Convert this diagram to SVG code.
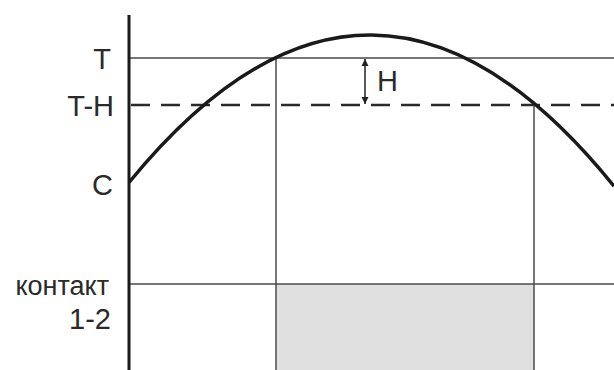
<svg xmlns="http://www.w3.org/2000/svg" width="614" height="370" viewBox="0 0 614 370">
  <defs>
    <marker id="ah" viewBox="0 0 10 10" refX="10" refY="5" markerWidth="7" markerHeight="8" orient="auto-start-reverse" markerUnits="userSpaceOnUse">
      <path d="M0,0 L10,5 L0,10 Z" fill="#222"/>
    </marker>
    <style>
      .lbl { font-family: "Liberation Sans", Arial, sans-serif; font-size: 29px; fill: #2a2a2a; text-anchor: end; }
      .thin { stroke: #4a4a4a; stroke-width: 1.5; fill: none; }
      .dash { stroke: #2a2a2a; stroke-width: 2.5; stroke-dasharray: 19 11; fill: none; }
    </style>
  </defs>
  <rect width="614" height="370" fill="#fff"/>
  <g id="contact-band">
    <rect x="276" y="284" width="258" height="86" fill="#e0e0e0"/>
  </g>
  <g id="grid">
    <line class="thin" x1="130" y1="58" x2="614" y2="58"/>
    <line class="dash" x1="131" y1="105" x2="614" y2="105"/>
    <line class="thin" x1="130" y1="284" x2="614" y2="284"/>
    <line class="thin" x1="276" y1="58" x2="276" y2="370"/>
    <line class="thin" x1="534" y1="105" x2="534" y2="370"/>
  </g>
  <g id="axis">
    <line x1="129" y1="15" x2="129" y2="370" stroke="#1a1a1a" stroke-width="3"/>
  </g>
  <g id="curve">
    <path d="M129,182.5 Q371.5,-114.3 614,186.2" fill="none" stroke="#1a1a1a" stroke-width="3.5"/>
  </g>
  <g id="connectors">
    <line x1="365" y1="59" x2="365" y2="104" stroke="#222" stroke-width="1.5" marker-start="url(#ah)" marker-end="url(#ah)"/>
  </g>
  <g id="labels">
    <text class="lbl" x="111" y="69">T</text>
    <text class="lbl" x="114" y="116">T-H</text>
    <text class="lbl" x="113" y="195">C</text>
    <text class="lbl" x="109" y="295" style="font-size:27px">контакт</text>
    <text class="lbl" x="111" y="329">1-2</text>
    <text x="377" y="91" style="font-family:'Liberation Sans', Arial, sans-serif; font-size:29px; fill:#2a2a2a">H</text>
  </g>
</svg>
